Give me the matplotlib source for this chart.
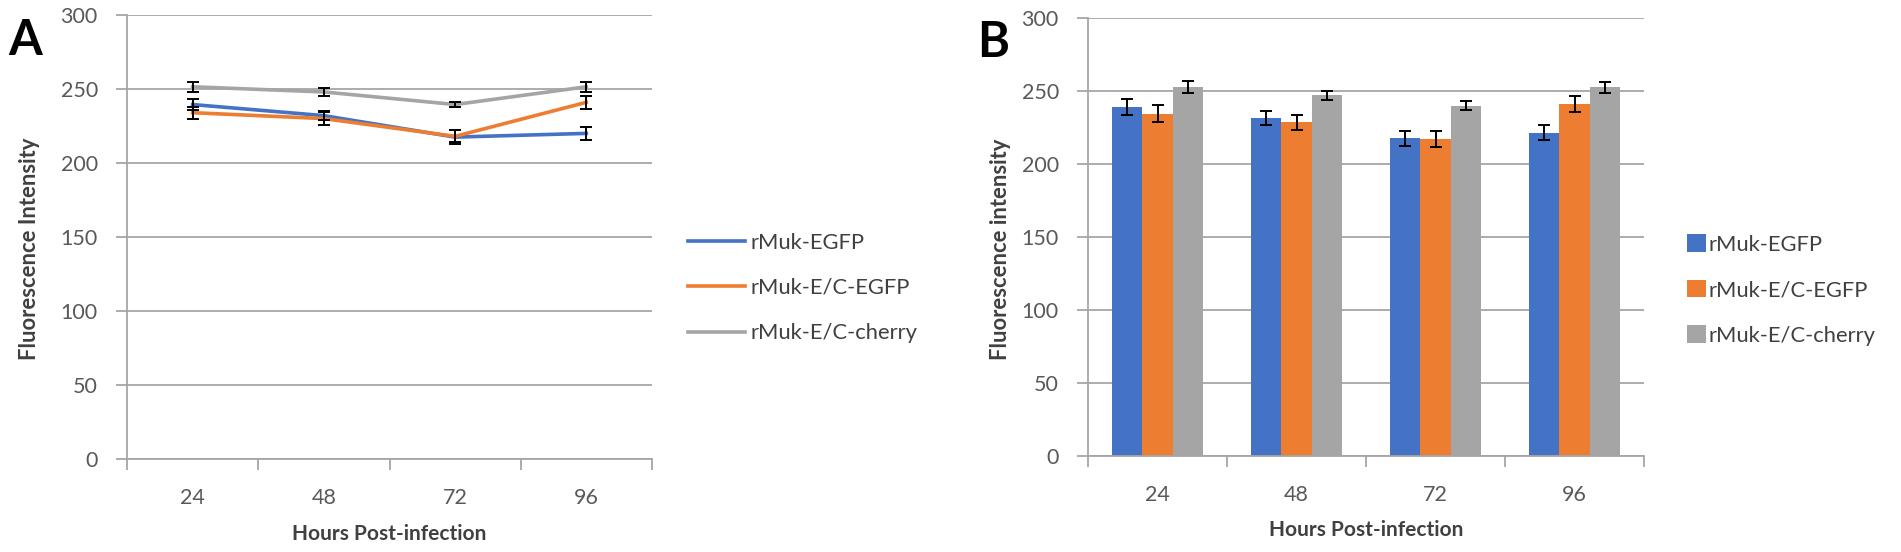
import matplotlib
matplotlib.use("Agg")
import matplotlib.pyplot as plt
import numpy as np

plt.rcParams['font.family'] = ['Lato', 'DejaVu Sans']

hours = ['24', '48', '72', '96']
series = ['rMuk-EGFP', 'rMuk-E/C-EGFP', 'rMuk-E/C-cherry']
colors = ['#4472C4', '#ED7D31', '#A5A5A5']

# panel A (line chart)
a_egfp = [239.5, 232, 217.5, 220]
a_ec_egfp = [234, 230, 218, 241]
a_cherry = [251.5, 248, 239.5, 251.5]
a_egfp_err = [3.5, 3, 4.5, 4.5]
a_ec_egfp_err = [4, 4.5, 4, 4.5]
a_cherry_err = [3.4, 3, 2, 3.4]

# panel B (bar chart)
b_egfp = [239, 231.5, 217.5, 221.5]
b_ec_egfp = [234.5, 228.5, 217, 241]
b_cherry = [252.5, 247, 240, 252.5]
b_egfp_err = [5.3, 5, 5.2, 5]
b_ec_egfp_err = [5.7, 5.2, 5.4, 5.7]
b_cherry_err = [4.2, 3, 3, 3.6]

grid_c = '#A6A6A6'
text_c = '#595959'

fig = plt.figure(figsize=(19.01, 5.52), dpi=100)
axA = fig.add_axes([127/1901, 1-459/552, 525/1901, 444/552])
axB = fig.add_axes([1088/1901, 1-456/552, 556/1901, 438/552])


def style(ax, ylabel, ylx):
    ax.set_ylim(0, 300)
    ax.set_yticks(np.arange(0, 301, 50))
    ax.set_xlim(-0.5, 3.5)
    ax.set_xticks(range(4))
    ax.set_xticklabels(hours)
    ax.set_xticks(np.arange(-0.5, 4, 1), minor=True)
    ax.tick_params(axis='x', which='major', length=0, pad=21, labelsize=15.5, labelcolor=text_c)
    ax.tick_params(axis='x', which='minor', length=8, width=1.3, color=grid_c, direction='out')
    ax.tick_params(axis='y', length=8, width=1.3, color=grid_c, pad=13, labelsize=15.5, labelcolor=text_c)
    ax.yaxis.grid(True, color=grid_c, linewidth=1.3)
    ax.set_axisbelow(True)
    for s in ['top', 'right']:
        ax.spines[s].set_visible(False)
    for s in ['left', 'bottom']:
        ax.spines[s].set_color(grid_c)
        ax.spines[s].set_linewidth(1.3)
    ax.set_xlabel('Hours Post-infection', fontsize=15, fontweight='bold', color='#404040')
    ax.xaxis.set_label_coords(0.5, -0.17)
    ax.xaxis.label.set_va('center')
    ax.set_ylabel(ylabel, fontsize=15.8, fontweight='bold', color='#404040')
    ax.yaxis.set_label_coords(ylx, 0.473)
    ax.yaxis.label.set_va('center')


x = np.arange(4)
a_vals = [a_egfp, a_ec_egfp, a_cherry]
a_errs = [a_egfp_err, a_ec_egfp_err, a_cherry_err]
for v, e, c, n in zip(a_vals, a_errs, colors, series):
    axA.plot(x, v, color=c, linewidth=2.6, label=n, zorder=3)
for v, e in zip(a_vals, a_errs):
    axA.errorbar(x, v, yerr=e, fmt='none', ecolor='black', elinewidth=1.4,
                 capsize=4, capthick=1.4, zorder=4)
style(axA, 'Fluorescence Intensity', -0.185)

b_vals = [b_egfp, b_ec_egfp, b_cherry]
b_errs = [b_egfp_err, b_ec_egfp_err, b_cherry_err]
w = 0.22
for i, (v, e, c, n) in enumerate(zip(b_vals, b_errs, colors, series)):
    axB.bar(x + (i - 1) * w, v, width=w, color=c, label=n, zorder=2)
    axB.errorbar(x + (i - 1) * w, v, yerr=e, fmt='none', ecolor='black',
                 elinewidth=1.4, capsize=4, capthick=1.4, zorder=4)
style(axB, 'Fluorescence intensity', -0.158)

fig.legend(*axA.get_legend_handles_labels(), loc='center left',
           bbox_to_anchor=(688/1901, 1-288/552), frameon=False, fontsize=15.8,
           handlelength=2.6, handletextpad=0.25, labelspacing=1.15,
           borderpad=0, borderaxespad=0, labelcolor='#404040')
fig.legend(*axB.get_legend_handles_labels(), loc='center left',
           bbox_to_anchor=(1687/1901, 1-290/552), frameon=False, fontsize=15.8,
           handlelength=0.85, handleheight=0.85, handletextpad=0.15, labelspacing=1.15,
           borderpad=0, borderaxespad=0, labelcolor='#404040')

fig.text(8/1901, 1-55/552, 'A', fontsize=35, fontweight='bold', va='baseline')
fig.text(977/1901, 1-57/552, 'B', fontsize=35, fontweight='bold', va='baseline')

fig.savefig('out.png', dpi=100)
